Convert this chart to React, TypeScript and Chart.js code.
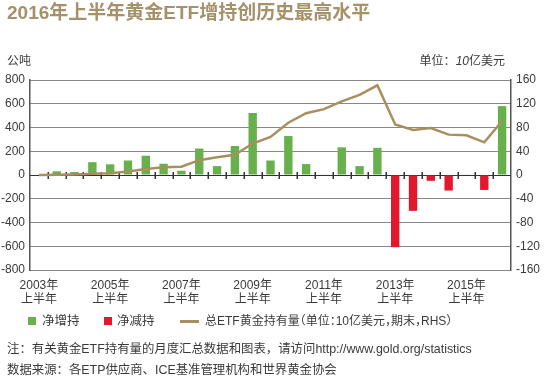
import React, { useEffect, useRef } from "react";
import { Chart, registerables } from "chart.js";
Chart.register(...registerables);

const categories = [
  "2003年上半年", "2003年下半年", "2004年上半年", "2004年下半年",
  "2005年上半年", "2005年下半年", "2006年上半年", "2006年下半年",
  "2007年上半年", "2007年下半年", "2008年上半年", "2008年下半年",
  "2009年上半年", "2009年下半年", "2010年上半年", "2010年下半年",
  "2011年上半年", "2011年下半年", "2012年上半年", "2012年下半年",
  "2013年上半年", "2013年下半年", "2014年上半年", "2014年下半年",
  "2015年上半年", "2015年下半年", "2016年上半年",
];

// Net flows, tonnes (left axis)
const netFlows = [
  0, 31, 25, 108, 90, 122, 162, 95, 36, 223, 75, 244, 522, 122, 328, 92,
  3, 233, 75, 229, -608, -302, -49, -131, 3, -126, 580,
];

// Total ETF holdings, US$bn (right axis)
const holdings = [
  0, 0.5, 1, 2, 3, 6, 10, 13, 14, 25, 30, 34, 53, 64, 88, 104,
  111, 124, 135, 151, 85, 76, 79, 68, 67, 55, 91,
];

const leftTicks = [800, 600, 400, 200, 0, -200, -400, -600, -800];
const rightTicks = [160, 120, 80, 40, 0, -40, -80, -120, -160];

const GREEN = "#67b04b";
const RED = "#e2192c";
const GOLD = "#a98f5e";
const TEXT = "#3a3a3a";
const FONT = "'Liberation Sans', 'Noto Sans CJK SC', sans-serif";

const zeroLinePlugin = {
  id: "zeroLine",
  beforeDatasetsDraw(chart: any) {
    const { ctx, chartArea, scales } = chart;
    const y0 = scales.y.getPixelForValue(0);
    const n = categories.length;
    const w = (chartArea.right - chartArea.left) / n;
    ctx.save();
    ctx.strokeStyle = "#333";
    ctx.lineWidth = 1;
    ctx.setLineDash([]);
    ctx.beginPath();
    ctx.moveTo(chartArea.left, y0 + 0.5);
    ctx.lineTo(chartArea.right, y0 + 0.5);
    ctx.stroke();
    ctx.lineWidth = 1.5;
    for (let i = 1; i < n; i++) {
      const x = Math.round(chartArea.left + i * w) + 0.25;
      ctx.beginPath();
      ctx.moveTo(x, y0 - 3);
      ctx.lineTo(x, y0 + 4);
      ctx.stroke();
    }
    ctx.restore();
  },
};

export default function App() {
  const ref = useRef<HTMLCanvasElement | null>(null);

  useEffect(() => {
    if (!ref.current) return;
    Chart.defaults.font.family = FONT;
    const chart = new Chart(ref.current, {
      type: "bar",
      data: {
        labels: categories,
        datasets: [
          {
            type: "line",
            label: "总ETF黄金持有量",
            data: holdings,
            yAxisID: "y1",
            borderColor: GOLD,
            borderWidth: 2.5,
            pointRadius: 0,
            tension: 0,
            order: 0,
          } as any,
          {
            label: "净增持",
            data: netFlows.map((v) => (v >= 0 ? v : null)),
            backgroundColor: GREEN,
            yAxisID: "y",
            grouped: false,
            barPercentage: 0.47,
            categoryPercentage: 1,
            order: 1,
          },
          {
            label: "净减持",
            data: netFlows.map((v) => (v < 0 ? v : null)),
            backgroundColor: RED,
            yAxisID: "y",
            grouped: false,
            barPercentage: 0.47,
            categoryPercentage: 1,
            order: 1,
          },
        ],
      },
      options: {
        responsive: false,
        animation: false,
        devicePixelRatio: 1,
        layout: { padding: { left: 0, right: 0, top: 80, bottom: 76 } },
        plugins: {
          legend: { display: false },
          title: { display: false },
          tooltip: { enabled: false },
        },
        scales: {
          x: {
            grid: { display: false, drawTicks: false },
            border: { display: false },
            ticks: {
              autoSkip: false,
              maxRotation: 0,
              minRotation: 0,
              padding: 8,
              color: TEXT,
              font: { size: 12, family: FONT, lineHeight: 1.2 },
              callback: (_v: any, i: number) =>
                i % 4 === 0 ? [categories[i].slice(0, 5), categories[i].slice(5)] : "",
            },
            afterFit: (s: any) => {
              s.height = 40;
            },
          },
          y: {
            position: "left",
            min: -800,
            max: 800,
            afterBuildTicks: (s: any) => {
              s.ticks = leftTicks.map((v) => ({ value: v }));
            },
            grid: {
              color: "#111",
              lineWidth: 1,
              drawTicks: false,
            },
            border: { display: true, color: "#555", width: 1.5, dash: [1, 1] },
            ticks: {
              padding: 5,
              color: TEXT,
              font: { size: 12, family: FONT },
            },
            afterFit: (s: any) => {
              s.width = 30;
            },
          },
          y1: {
            position: "right",
            min: -160,
            max: 160,
            afterBuildTicks: (s: any) => {
              s.ticks = rightTicks.map((v) => ({ value: v }));
            },
            grid: { display: false, drawTicks: false },
            border: { display: true, color: "#555", width: 1.5 },
            ticks: {
              padding: 5,
              color: TEXT,
              font: { size: 12, family: FONT },
            },
            afterFit: (s: any) => {
              s.width = 39;
            },
          },
        },
      },
      plugins: [zeroLinePlugin],
    });
    return () => chart.destroy();
  }, []);

  const abs = (extra: React.CSSProperties): React.CSSProperties => ({
    position: "absolute",
    whiteSpace: "nowrap",
    fontFamily: FONT,
    color: TEXT,
    ...extra,
  });

  return (
    <div
      style={{
        position: "fixed",
        left: 0,
        top: 0,
        width: 550,
        height: 386,
        background: "#fff",
        overflow: "hidden",
      }}
    >
      <canvas
        ref={ref}
        width={550}
        height={386}
        style={{ position: "absolute", left: 0, top: 0, width: 550, height: 386 }}
      />
      <div
        style={abs({
          left: 7,
          top: 2,
          fontSize: 19,
          lineHeight: "22px",
          fontWeight: 700,
          color: "#a5926a",
        })}
      >
        2016年上半年黄金ETF增持创历史最高水平
      </div>
      <div style={abs({ left: 7, top: 53, fontSize: 12, lineHeight: "16px" })}>公吨</div>
      <div style={abs({ right: 45, top: 53, fontSize: 12, lineHeight: "16px" })}>
        单位：<i>10</i>亿美元
      </div>

      {/* legend */}
      <div style={{ position: "absolute", left: 28, top: 317, width: 8, height: 8, background: GREEN }} />
      <div style={abs({ left: 42, top: 313, fontSize: 12.5, lineHeight: "16px" })}>净增持</div>
      <div style={{ position: "absolute", left: 104, top: 317, width: 8, height: 8, background: RED }} />
      <div style={abs({ left: 117, top: 313, fontSize: 12.5, lineHeight: "16px" })}>净减持</div>
      <div style={{ position: "absolute", left: 180, top: 320, width: 19, height: 3, background: GOLD }} />
      <div
        style={abs({
          left: 205,
          top: 313,
          fontSize: 12,
          lineHeight: "16px",
          fontFeatureSettings: '"halt"',
        })}
      >
        总ETF黄金持有量（单位：10亿美元，期末，RHS）
      </div>

      {/* notes */}
      <div style={abs({ left: 7, top: 341, fontSize: 12.4, lineHeight: "16px" })}>
        注：有关黄金ETF持有量的月度汇总数据和图表，请访问http://www.gold.org/statistics
      </div>
      <div style={abs({ left: 7, top: 362, fontSize: 12.4, lineHeight: "16px" })}>
        数据来源：各ETP供应商、ICE基准管理机构和世界黄金协会
      </div>
    </div>
  );
}
